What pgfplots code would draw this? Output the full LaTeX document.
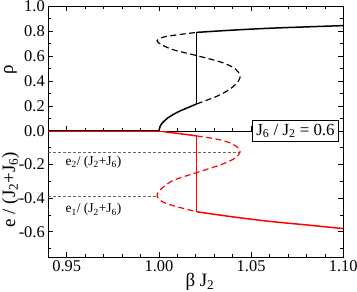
\documentclass[border=0pt]{standalone}
\usepackage{fontspec}
\setmainfont{Liberation Serif}
\usepackage{pgfplots}
\pgfplotsset{compat=1.18}

\pgfplotsset{
  panel/.style={
    scale only axis, width=295bp, xmin=0.94, xmax=1.10,
    xtick={0.95,1.00,1.05,1.10}, minor x tick num=4,
    tick align=inside, major tick length=5bp, minor tick length=3bp,
    axis line style={line width=0.8pt}, every tick/.style={line width=0.7pt, black},
    /pgf/number format/assume math mode=true,
    ticklabel style={font=\fontsize{16.5}{18}\selectfont},
    label style={font=\fontsize{19}{21}\selectfont},
  },
}

\begin{document}
\begin{tikzpicture}
% rho panel
\begin{axis}[panel, name=top, at={(0,0)}, anchor=south west, height=125bp,
  ymin=0, ymax=1, ytick={0,0.2,...,1}, minor y tick num=1,
  xticklabel=\empty,
  yticklabel style={/pgf/number format/.cd, fixed, fixed zerofill, precision=1},
  ylabel={ρ}, ylabel style={at={(axis description cs:-0.128,0.49)}, anchor=center}]
\addplot[black, line width=2.4pt] coordinates {(0.94,0) (1.00,0)};
\addplot[black, line width=1.5pt, smooth] coordinates {
  (1.0000,0) (1.0011,0.05) (1.0044,0.10) (1.0100,0.15) (1.0178,0.20) (1.0205,0.217)};
\addplot[black, line width=1.2pt, smooth, dash pattern=on 6pt off 3.5pt] coordinates {
  (1.0205,0.217) (1.0318,0.28) (1.0390,0.34) (1.0431,0.40) (1.0440,0.445)
  (1.0412,0.50) (1.0339,0.55) (1.0205,0.603) (1.0078,0.65) (1.0015,0.69)
  (0.9990,0.723) (1.0035,0.755) (1.0205,0.789)};
\addplot[black, line width=1.5pt] coordinates {(1.0205,0.217) (1.0205,0.789)};
\addplot[black, line width=1.5pt, smooth] coordinates {
  (1.0205,0.789) (1.04,0.807) (1.06,0.822) (1.08,0.833) (1.10,0.843)};
\end{axis}

% energy panel
\begin{axis}[panel, name=bot, at={(0,0)}, anchor=north west, height=126bp,
  ymin=-0.75, ymax=0, ytick={-0.6,-0.4,-0.2}, minor ytick={-0.7,-0.5,-0.3,-0.1},
  xtick pos=bottom,
  xticklabel style={/pgf/number format/.cd, fixed, fixed zerofill, precision=2},
  yticklabel style={/pgf/number format/.cd, fixed, fixed zerofill, precision=1},
  ylabel={e / (J\textsubscript{2}+J\textsubscript{6})},
  ylabel style={at={(axis description cs:-0.128,0.535)}, anchor=center},
  xlabel={β J\textsubscript{2}},
  xlabel style={at={(axis description cs:0.514,-0.198)}, anchor=center}]
\addplot[black!60, line width=0.6pt, dash pattern=on 3pt off 2pt] coordinates {(0.94,-0.126) (1.044,-0.126)};
\addplot[black!60, line width=0.6pt, dash pattern=on 3pt off 2pt] coordinates {(0.94,-0.386) (0.999,-0.386)};
\addplot[red, line width=2.4pt] coordinates {(0.94,0) (1.00,0)};
\addplot[red, line width=1.5pt, smooth] coordinates {
  (1.0000,0) (1.0011,-0.0016) (1.0044,-0.0063) (1.0100,-0.0141) (1.0178,-0.025) (1.0205,-0.0295)};
\addplot[red, line width=1.2pt, smooth, dash pattern=on 6pt off 3.5pt] coordinates {
  (1.0205,-0.0295) (1.0318,-0.0492) (1.0390,-0.0728) (1.0431,-0.1015) (1.0440,-0.1267)
  (1.0412,-0.1621) (1.0339,-0.1994) (1.0205,-0.2474) (1.0078,-0.2940) (1.0015,-0.342)
  (0.9990,-0.386) (1.0035,-0.430) (1.0205,-0.481)};
\addplot[red, line width=1.5pt] coordinates {(1.0205,-0.0295) (1.0205,-0.481)};
\addplot[red, line width=1.5pt, smooth] coordinates {
  (1.0205,-0.481) (1.04,-0.511) (1.06,-0.538) (1.08,-0.559) (1.10,-0.581)};
\node[font=\fontsize{13.5}{15}\selectfont] at (axis cs:0.9645,-0.186) {e\textsubscript{2}/ (J\textsubscript{2}+J\textsubscript{6})};
\node[font=\fontsize{13.5}{15}\selectfont] at (axis cs:0.9645,-0.468) {e\textsubscript{1}/ (J\textsubscript{2}+J\textsubscript{6})};
\coordinate (box) at (axis description cs:0.838,1.0);
\end{axis}
\node[draw, fill=white, line width=0.8pt, inner sep=3.5pt, font=\fontsize{17}{19}\selectfont] at (box)
  {J\textsubscript{6} / J\textsubscript{2} = 0.6};
\pgfresetboundingbox
\path (-48.3bp,-161bp) rectangle (308.7bp,131bp);
\end{tikzpicture}
\end{document}
